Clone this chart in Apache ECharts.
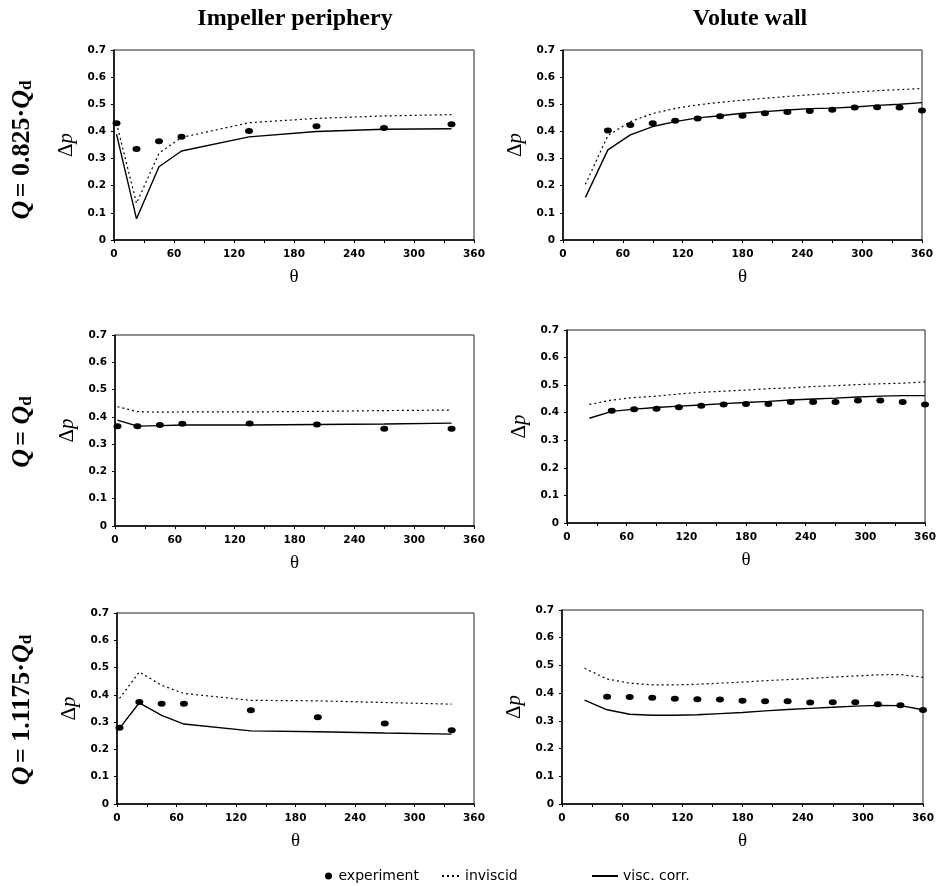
<!DOCTYPE html>
<html><head><meta charset="utf-8">
<script src="https://cdn.jsdelivr.net/npm/echarts@6/dist/echarts.min.js"></script>
<style>html,body{margin:0;padding:0;background:#fff}#c{width:939px;height:886px}</style>
</head><body><div id="c"></div>
<script>
// ---- data ----
const xTickLabels = [0, 60, 120, 180, 240, 300, 360];
const impTheta = [2.5, 22.5, 45, 67.5, 135, 202.5, 270, 337.5];
const volExpTheta = [45, 67.5, 90, 112.5, 135, 157.5, 180, 202.5, 225, 247.5, 270, 292.5, 315, 337.5, 360];
const volLineTheta = [22.5, 45, 67.5, 90, 112.5, 135, 157.5, 180, 202.5, 225, 247.5, 270, 292.5, 315, 337.5, 360];

// Q = 0.825 Qd
const imp1Exp = [0.43, 0.335, 0.364, 0.38, 0.402, 0.419, 0.413, 0.426];
const imp1Inv = [0.43, 0.135, 0.32, 0.378, 0.432, 0.448, 0.457, 0.462];
const imp1Vis = [0.39, 0.078, 0.27, 0.328, 0.38, 0.40, 0.408, 0.41];
const vol1Exp = [0.403, 0.424, 0.43, 0.439, 0.448, 0.456, 0.458, 0.467, 0.472, 0.475, 0.48, 0.488, 0.489, 0.488, 0.477];
const vol1Inv = [0.205, 0.385, 0.436, 0.466, 0.485, 0.498, 0.507, 0.515, 0.522, 0.529, 0.535, 0.54, 0.545, 0.55, 0.554, 0.558];
const vol1Vis = [0.157, 0.332, 0.387, 0.418, 0.436, 0.45, 0.458, 0.467, 0.473, 0.479, 0.484, 0.486, 0.49, 0.496, 0.50, 0.506];
// Q = Qd
const imp2Exp = [0.366, 0.366, 0.37, 0.375, 0.376, 0.372, 0.356, 0.356];
const imp2Inv = [0.437, 0.419, 0.417, 0.418, 0.418, 0.42, 0.423, 0.425];
const imp2Vis = [0.388, 0.366, 0.368, 0.37, 0.37, 0.372, 0.374, 0.377];
const vol2Exp = [0.407, 0.413, 0.414, 0.42, 0.425, 0.43, 0.432, 0.432, 0.439, 0.439, 0.439, 0.444, 0.444, 0.439, 0.43];
const vol2Inv = [0.43, 0.446, 0.455, 0.46, 0.468, 0.474, 0.478, 0.482, 0.487, 0.49, 0.495, 0.498, 0.502, 0.505, 0.507, 0.512];
const vol2Vis = [0.38, 0.405, 0.413, 0.419, 0.424, 0.428, 0.433, 0.437, 0.441, 0.446, 0.45, 0.453, 0.457, 0.46, 0.462, 0.462];
// Q = 1.1175 Qd
const imp3Exp = [0.279, 0.374, 0.367, 0.367, 0.344, 0.318, 0.295, 0.27];
const imp3Inv = [0.387, 0.484, 0.435, 0.405, 0.38, 0.378, 0.372, 0.366];
const imp3Vis = [0.277, 0.371, 0.325, 0.293, 0.268, 0.265, 0.26, 0.256];
const vol3Exp = [0.387, 0.386, 0.383, 0.38, 0.378, 0.377, 0.373, 0.371, 0.371, 0.366, 0.367, 0.367, 0.36, 0.356, 0.339];
const vol3Inv = [0.49, 0.451, 0.436, 0.43, 0.43, 0.432, 0.436, 0.44, 0.445, 0.449, 0.453, 0.458, 0.462, 0.466, 0.467, 0.457];
const vol3Vis = [0.375, 0.34, 0.324, 0.32, 0.32, 0.322, 0.326, 0.33, 0.336, 0.341, 0.345, 0.349, 0.353, 0.356, 0.355, 0.34];

const colTitles = ['Impeller periphery', 'Volute wall'];
const seriesNames = ['experiment', 'inviscid', 'visc. corr.'];

// ---- layout ----
const zip = (xs, ys) => xs.map((x, i) => [x, ys[i]]);
const grids = [
  {left: 114, top: 50, width: 360, height: 190},
  {left: 563, top: 50, width: 359, height: 190},
  {left: 115, top: 335, width: 359, height: 191},
  {left: 567, top: 330, width: 361, height: 193},
  {left: 117, top: 613, width: 357, height: 191},
  {left: 562, top: 610, width: 361, height: 194}
];
const panels = [
  [impTheta, imp1Exp, impTheta, imp1Inv, imp1Vis],
  [volExpTheta, vol1Exp, volLineTheta, vol1Inv, vol1Vis],
  [impTheta, imp2Exp, impTheta, imp2Inv, imp2Vis],
  [volExpTheta, vol2Exp, volLineTheta, vol2Inv, vol2Vis],
  [impTheta, imp3Exp, impTheta, imp3Inv, imp3Vis],
  [volExpTheta, vol3Exp, volLineTheta, vol3Inv, vol3Vis]
];

const labelFont = {fontFamily: 'DejaVu Sans', fontWeight: 'bold', fontSize: 10.5, color: '#000'};
const xAxes = [], yAxes = [], series = [];
grids.forEach((g, i) => {
  g.show = true; g.borderColor = '#222'; g.borderWidth = 1; g.containLabel = false;
  xAxes.push({
    gridIndex: i, type: 'value', min: 0, max: 360, interval: 30,
    name: 'θ', nameLocation: 'middle', nameGap: 28,
    nameTextStyle: {fontFamily: 'Liberation Serif', fontSize: 19, color: '#000'},
    axisLine: {lineStyle: {color: '#000', width: 1.5}},
    axisTick: {length: 3, lineStyle: {color: '#000'}},
    splitLine: {show: false},
    axisLabel: Object.assign({margin: 9, formatter: v => xTickLabels.indexOf(v) >= 0 ? String(v) : ''}, labelFont)
  });
  yAxes.push({
    gridIndex: i, type: 'value', min: 0, max: 0.7, interval: 0.1,
    name: '{d|Δ}{p|p}', nameLocation: 'middle', nameGap: 37,
    nameTextStyle: {rich: {
      d: {fontFamily: 'Liberation Serif', fontSize: 21, color: '#000'},
      p: {fontFamily: 'Liberation Serif', fontStyle: 'italic', fontSize: 21, color: '#000'}
    }},
    axisLine: {lineStyle: {color: '#000', width: 1.5}},
    axisTick: {length: 3, lineStyle: {color: '#000'}},
    splitLine: {show: false},
    axisLabel: Object.assign({margin: 8, formatter: v => v === 0 ? '0' : v.toFixed(1)}, labelFont)
  });
  const p = panels[i];
  series.push({
    name: seriesNames[0], type: 'scatter', xAxisIndex: i, yAxisIndex: i,
    symbol: 'circle', symbolSize: [8, 6], itemStyle: {color: '#000', opacity: 1},
    data: zip(p[0], p[1]), z: 5
  });
  series.push({
    name: seriesNames[1], type: 'line', xAxisIndex: i, yAxisIndex: i,
    symbol: 'none', showSymbol: false, lineStyle: {color: '#000', width: 1.2, type: [2, 3]},
    itemStyle: {color: '#000'}, data: zip(p[2], p[3])
  });
  series.push({
    name: seriesNames[2], type: 'line', xAxisIndex: i, yAxisIndex: i,
    symbol: 'none', showSymbol: false, lineStyle: {color: '#000', width: 1.4},
    itemStyle: {color: '#000'}, data: zip(p[2], p[4])
  });
});

const rowLabel = (sub, cy) => ({
  type: 'text', x: 22, y: cy, rotation: Math.PI / 2,
  style: {
    text: '{q|Q} {t|= ' + sub + '}{q|Q}{s|d}',
    rich: {
      q: {fontFamily: 'Liberation Serif', fontStyle: 'italic', fontWeight: 'bold', fontSize: 26, fill: '#000'},
      t: {fontFamily: 'Liberation Serif', fontWeight: 'bold', fontSize: 26, fill: '#000'},
      s: {fontFamily: 'Liberation Serif', fontWeight: 'bold', fontSize: 17, fill: '#000', padding: [10, 0, 0, 0]}
    },
    align: 'center', verticalAlign: 'middle'
  }
});

const legendText = {fontFamily: 'DejaVu Sans', fontSize: 14, color: '#000'};
const hiddenSym = {color: 'rgba(0,0,0,0)', borderWidth: 0, opacity: 0};

const chart = echarts.init(document.getElementById('c'), null, {renderer: 'canvas'});
chart.setOption({
  animation: false,
  backgroundColor: '#fff',
  title: [
    {text: colTitles[0], left: 290, top: 2, textAlign: 'center',
     textStyle: {fontFamily: 'Liberation Serif', fontWeight: 'bold', fontSize: 24, color: '#000'}},
    {text: colTitles[1], left: 745, top: 2, textAlign: 'center',
     textStyle: {fontFamily: 'Liberation Serif', fontWeight: 'bold', fontSize: 24, color: '#000'}}
  ],
  legend: [
    {data: [{name: seriesNames[0], icon: 'circle', itemStyle: {color: '#000', opacity: 1}}],
     left: 320, top: 864, itemWidth: 10, itemHeight: 7, itemGap: 0, textStyle: legendText},
    {data: [{name: seriesNames[1], itemStyle: hiddenSym}],
     left: 436, top: 864, itemWidth: 18, itemHeight: 8, textStyle: legendText},
    {data: [{name: seriesNames[2], itemStyle: hiddenSym}],
     left: 586, top: 864, itemWidth: 26, itemHeight: 8, textStyle: legendText}
  ],
  grid: grids, xAxis: xAxes, yAxis: yAxes, series: series,
  graphic: [rowLabel('0.825·', 150), rowLabel('', 432), rowLabel('1.1175·', 710)]
});
</script></body></html>
